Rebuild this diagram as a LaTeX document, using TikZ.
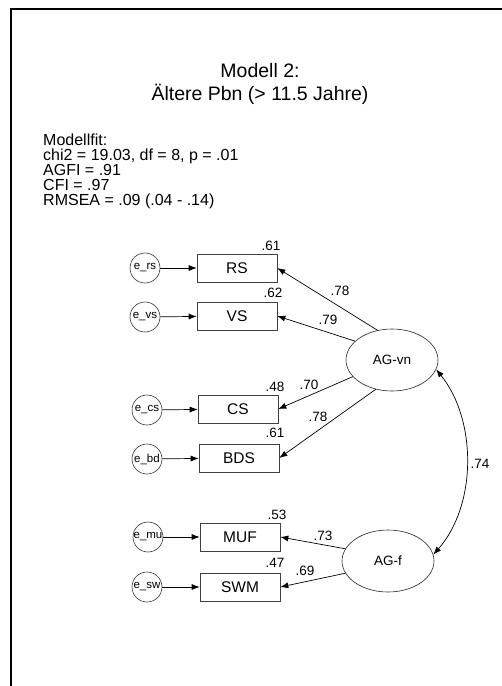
\documentclass[tikz,border=0pt]{standalone}
\usepackage{fontspec}
\setmainfont{Liberation Sans}
\usetikzlibrary{arrows.meta,shapes.geometric}
\begin{document}
\begin{tikzpicture}[x=1pt,y=-1pt,
  obs/.style={draw=black!75,line width=0.6pt,minimum width=80pt,minimum height=28pt,inner sep=0pt,font=\fontsize{15.5}{17}\selectfont},
  err/.style={draw=black!80,line width=0.6pt,circle,minimum size=30pt,inner sep=0pt,font=\fontsize{11.5}{12}\selectfont},
  lat/.style={draw=black!85,line width=0.6pt,ellipse,minimum width=92pt,minimum height=62pt,inner sep=0pt,font=\fontsize{13.5}{15}\selectfont},
  coef/.style={inner sep=0pt,font=\fontsize{13.5}{14}\selectfont},
  arr/.style={line width=0.7pt,-{Latex[length=8pt,width=6pt]}},
  darr/.style={line width=0.7pt,{Latex[length=8pt,width=6pt]}-{Latex[length=8pt,width=6pt]}}
]
\useasboundingbox (0,0) rectangle (502,686);
% frame
\draw[line width=2pt] (11,686) -- (11,9) -- (502,9);
% title
\node[font=\fontsize{19.5}{23}\selectfont,inner sep=0pt,anchor=base] (title1) at (260,77) {Modell 2:};
\node[font=\fontsize{19.5}{23}\selectfont,inner sep=0pt,anchor=base] (title2) at (260,100) {Ältere Pbn (> 11.5 Jahre)};
% fit
\node[anchor=base west,inner sep=0pt,font=\fontsize{16}{16}\selectfont] (fit1) at (43,145) {Modellfit:};
\node[anchor=base west,inner sep=0pt,font=\fontsize{16}{16}\selectfont] (fit2) at (43,160) {chi2 = 19.03, df = 8, p = .01};
\node[anchor=base west,inner sep=0pt,font=\fontsize{16}{16}\selectfont] (fit3) at (43,175) {AGFI = .91};
\node[anchor=base west,inner sep=0pt,font=\fontsize{16}{16}\selectfont] (fit4) at (43,190) {CFI = .97};
\node[anchor=base west,inner sep=0pt,font=\fontsize{16}{16}\selectfont] (fit5) at (43,205) {RMSEA = .09 (.04 - .14)};
% observed
\node[obs] (rs) at (237,268) {RS};
\node[obs] (vs) at (237,316) {VS};
\node[obs] (cs) at (238,409) {CS};
\node[obs] (bds) at (239,458) {BDS};
\node[obs] (muf) at (240,537) {MUF};
\node[obs] (swm) at (240,587) {SWM};
% errors
\node[err] (ers) at (145,268) {e\_rs};
\node[err] (evs) at (145,317) {e\_vs};
\node[err] (ecs) at (147,410) {e\_cs};
\node[err] (ebd) at (147,459) {e\_bd};
\node[err] (emu) at (148,537) {e\_mu};
\node[err] (esw) at (147,587) {e\_sw};
% latents
\node[lat] (agvn) at (392,360) {AG-vn};
\node[lat] (agf) at (388,561) {AG-f};
% error arrows
\draw[arr] (ers) -- (rs);
\draw[arr] (evs) -- (vs);
\draw[arr] (ecs) -- (cs);
\draw[arr] (ebd) -- (bds);
\draw[arr] (emu) -- (muf);
\draw[arr] (esw) -- (swm);
% loadings
\draw[arr] (agvn.116) -- (rs.east);
\draw[arr] (agvn.153) -- (vs.east);
\draw[arr] (agvn.203) -- (cs.east);
\draw[arr] (agvn.241) -- (bds.east);
\draw[arr] (agf.164) -- (muf.east);
\draw[arr] (agf.196) -- (swm.east);
% correlation
\draw[darr] (agvn.-12) .. controls (477,420) and (477,505) .. (agf.8);
% R2
\node[coef] (r2rs) at (271,246) {.61};
\node[coef] (r2vs) at (273,293) {.62};
\node[coef] (r2cs) at (275,387) {.48};
\node[coef] (r2bds) at (275,433) {.61};
\node[coef] (r2muf) at (277,515) {.53};
\node[coef] (r2swm) at (275,563) {.47};
% loadings labels
\node[coef] (lrs) at (340,291) {.78};
\node[coef] (lvs) at (328,320) {.79};
\node[coef] (lcs) at (309,385) {.70};
\node[coef] (lbds) at (318,417) {.78};
\node[coef] (lmuf) at (323,536) {.73};
\node[coef] (lswm) at (305,571) {.69};
\node[coef] (lcor) at (480,464) {.74};
\end{tikzpicture}
\end{document}
